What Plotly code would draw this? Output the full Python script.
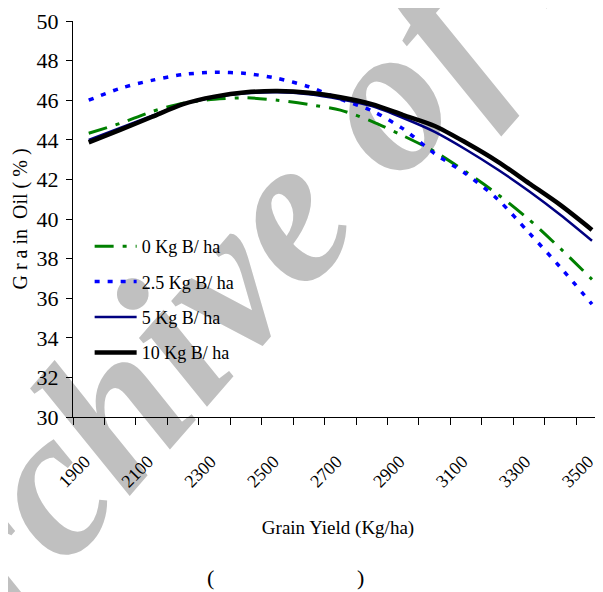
import math
import plotly.graph_objects as go

# Grain yield categories (Kg/ha)
yield_kg = [1900, 2000, 2100, 2200, 2300, 2400, 2500, 2600, 2700,
            2800, 2900, 3000, 3100, 3200, 3300, 3400, 3500]

# Grain oil (%) per boron rate
oil_0 = [44.33, 44.83, 45.42, 45.85, 46.05, 46.12, 46.0, 45.78, 45.5,
         44.93, 44.2, 43.4, 42.37, 41.25, 39.97, 38.5, 36.95]
oil_25 = [46.0, 46.6, 47.0, 47.3, 47.41, 47.35, 47.1, 46.68, 46.05,
          45.47, 44.55, 43.3, 42.27, 41.0, 39.3, 37.55, 35.7]
oil_5 = [44.0, 44.6, 45.2, 45.8, 46.15, 46.35, 46.4, 46.3, 46.05,
         45.7, 45.1, 44.4, 43.5, 42.5, 41.4, 40.2, 38.9]
oil_10 = [43.87, 44.5, 45.15, 45.8, 46.18, 46.4, 46.46, 46.38, 46.15,
          45.8, 45.25, 44.7, 43.85, 42.9, 41.8, 40.7, 39.45]

series_names = ["0 Kg B/ ha", "2.5 Kg B/ ha", "5 Kg B/ ha", "10 Kg B/ ha"]
x_tick_labels = ["1900", "2100", "2300", "2500", "2700", "2900", "3100", "3300", "3500"]
y_ticks = [30, 32, 34, 36, 38, 40, 42, 44, 46, 48, 50]
watermark = "Archive of SID"

FONT = "Liberation Serif, Times New Roman, serif"

# page body has an 8px margin: figure drawn 8px right/down of the window origin
W, H = 595, 584
PL, PT, PR, PB = 65, 13, 595, 409          # plot area in figure pixels
OFF = 8


def to_paper(wx, wy):
    fx, fy = wx - OFF, wy - OFF
    return (fx - PL) / (PR - PL), (PB - fy) / (PB - PT)


styles = [
    dict(color="#008000", width=3, dash="19px,9px,4px,9px"),
    dict(color="#0000FF", width=3.5, dash="5px,8px"),
    dict(color="#000080", width=2.5, dash="solid"),
    dict(color="#000000", width=4.5, dash="solid"),
]

fig = go.Figure()
for name, vals, st, g in zip(series_names, [oil_0, oil_25, oil_5, oil_10], styles, "abcd"):
    fig.add_trace(go.Scatter(
        x=yield_kg, y=vals, mode="lines", name=name, legendgroup=g,
        line=dict(color=st["color"], width=st["width"], dash=st["dash"], shape="spline", smoothing=0.8),
    ))

# category boundaries (ticks between categories, Excel-style)
half = (yield_kg[1] - yield_kg[0]) / 2
bounds = [v - half for v in yield_kg]
bound_text = []
for v in yield_kg:
    s = str(v)
    bound_text.append(s if s in x_tick_labels else "")

x_max = 3535

lx, ly = to_paper(96, 228)

fig.update_layout(
    width=W, height=H,
    margin=dict(l=PL, r=W - PR, t=PT, b=H - PB, pad=0),
    paper_bgcolor="white", plot_bgcolor="white",
    font=dict(family=FONT, color="black", size=19),
    showlegend=True,
    legend=dict(
        x=lx - 0.012, y=ly, xanchor="left", yanchor="top",
        bgcolor="rgba(0,0,0,0)", font=dict(family=FONT, size=18),
        tracegroupgap=9, itemwidth=42,
    ),
    xaxis=dict(
        range=[yield_kg[0] - half, x_max], showline=True, linecolor="black", linewidth=1,
        tickmode="array", tickvals=bounds, ticktext=bound_text,
        ticklabelshift=12, automargin=False,
        ticks="outside", ticklen=7, tickcolor="black", tickangle=-45,
        ticklabelstandoff=19, showgrid=False, zeroline=False,
        tickfont=dict(family=FONT, size=18),
        title=dict(text="Grain Yield (Kg/ha)", font=dict(family=FONT, size=19), standoff=30),
    ),
    yaxis=dict(
        range=[30, 50], tickmode="array", tickvals=y_ticks, automargin=False,
        showline=True, linecolor="black", linewidth=1,
        ticks="outside", ticklen=6, tickcolor="black",
        showgrid=False, zeroline=False, ticklabelstandoff=3,
        tickfont=dict(family=FONT, size=22),
        title=dict(text="G r a in \u00a0Oil ( % )", font=dict(family=FONT, size=20), standoff=3),
    ),
)

# gray watermark behind the chart
ang = math.radians(49)
cx, cy = 278, 182
x0, y0 = to_paper(cx - 20 * math.cos(ang), cy + 20 * math.sin(ang))
x1, y1 = to_paper(cx + 20 * math.cos(ang), cy - 20 * math.sin(ang))
fig.add_shape(
    type="line", xref="paper", yref="paper", x0=x0, y0=y0, x1=x1, y1=y1,
    line=dict(color="rgba(0,0,0,0)", width=0), layer="below",
    label=dict(text=watermark, textangle=-49, textposition="middle",
               xanchor="center", yanchor="middle", padding=0,
               font=dict(family=FONT, size=210, color="#c0c0c0", weight="bold", style="italic")),
)

px_, py_ = to_paper(210, 577)
fig.add_annotation(text="(", xref="paper", yref="paper", x=px_, y=py_,
                   xanchor="center", yanchor="middle",
                   showarrow=False, font=dict(family=FONT, size=22))
px_, py_ = to_paper(360, 577)
fig.add_annotation(text=")", xref="paper", yref="paper", x=px_, y=py_,
                   xanchor="center", yanchor="middle",
                   showarrow=False, font=dict(family=FONT, size=22))

fig.write_html("out.html")
